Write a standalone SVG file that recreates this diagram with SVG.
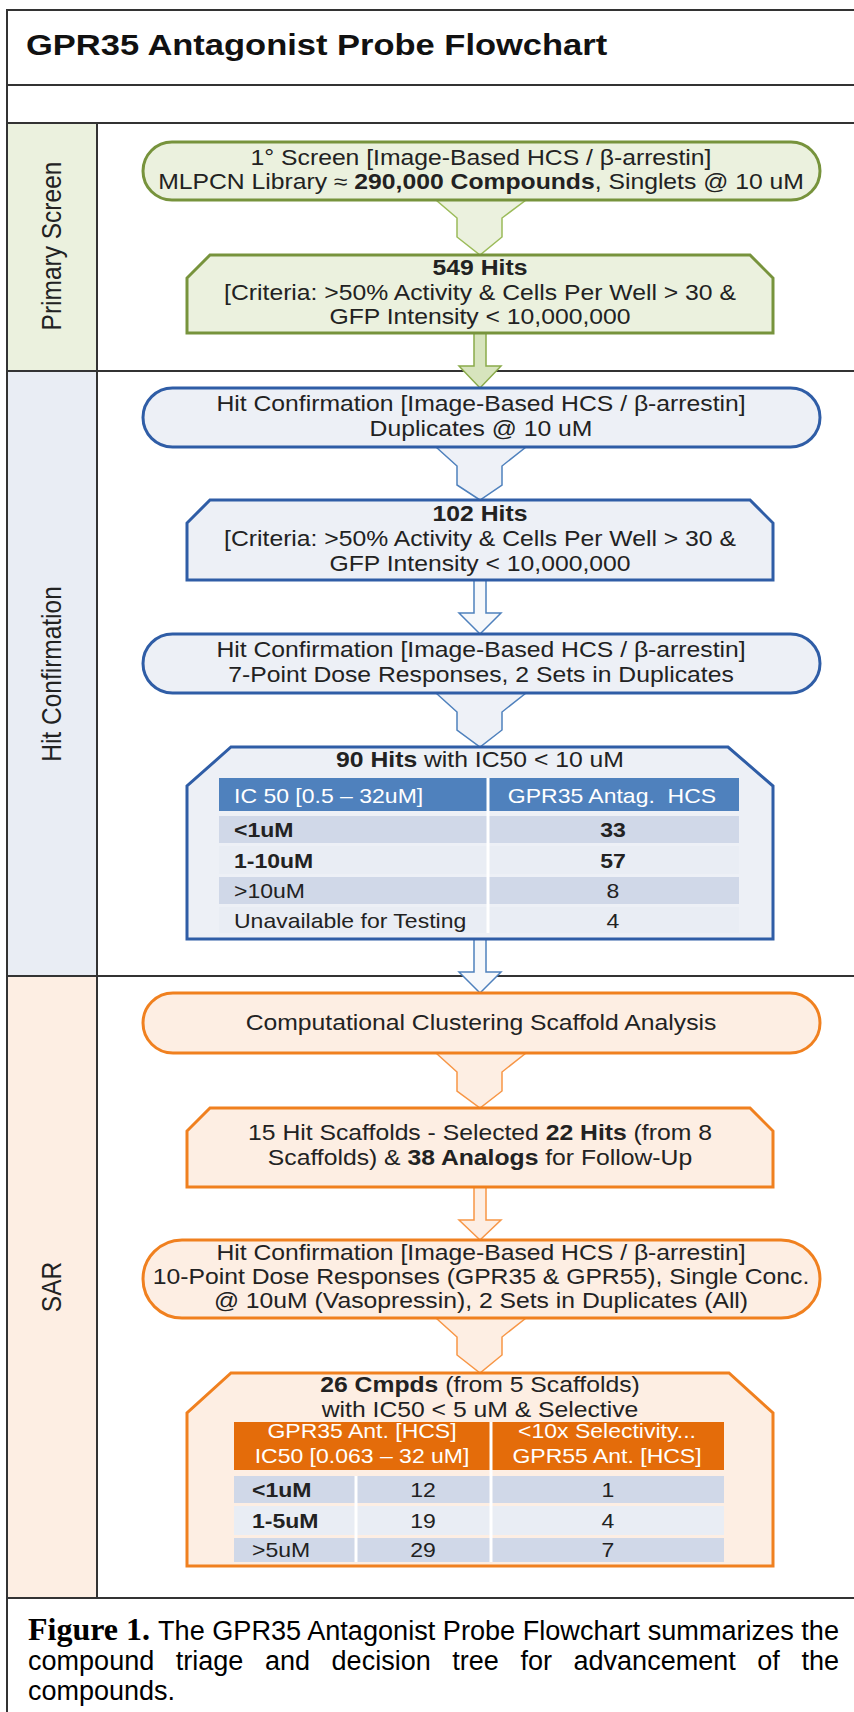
<svg xmlns="http://www.w3.org/2000/svg" width="854" height="1712" viewBox="0 0 854 1712">
<style>
.bg{fill:#ffffff}
.frame{stroke:#333333;stroke-width:2;fill:none}
.t{font-family:"Liberation Sans",Arial,sans-serif;font-size:21.5px;fill:#222222;text-anchor:middle}
.b{font-weight:bold}
.title{font-family:"Liberation Sans",Arial,sans-serif;font-size:30px;font-weight:bold;fill:#111111}
.lane{font-family:"Liberation Sans",Arial,sans-serif;font-size:24.5px;fill:#222222;text-anchor:middle}
.tb{font-family:"Liberation Sans",Arial,sans-serif;font-size:20px;fill:#222222}
.tc{text-anchor:middle}
.wh{fill:#ffffff}
.ng{fill:#ebf1de;stroke:#77933c;stroke-width:3}
.nb{fill:#edf0f6;stroke:#2f5da6;stroke-width:3}
.no{fill:#fdeee3;stroke:#f0801f;stroke-width:3}
.cg{fill:#ebf1de;stroke:#9bbb59;stroke-width:1.5}
.cga{fill:#d7e4bd;stroke:#8aab4a;stroke-width:1.5}
.cb{fill:#eef1f7;stroke:#4f81bd;stroke-width:1.5}
.cba{fill:#f6f8fb;stroke:#4f81bd;stroke-width:1.5}
.co{fill:#fdeee3;stroke:#f79646;stroke-width:1.5}
.hb{fill:#4f81bd}
.ho{fill:#e46c0a}
.r1{fill:#d0d8e8}
.r2{fill:#e9edf4}
.sep{stroke:#ffffff;stroke-width:3}
.cap{font-family:"Liberation Sans",Arial,sans-serif;font-size:27px;fill:#000000}
.capf{font-family:"Liberation Serif","Times New Roman",serif;font-size:32px;font-weight:bold;fill:#000000}
</style>
<rect class="bg" x="0" y="0" width="854" height="1712"/>

<g id="lanes">
<rect x="8" y="124" width="89" height="247" fill="#ebf1de"/>
<rect x="8" y="372" width="89" height="604" fill="#e9edf4"/>
<rect x="8" y="977" width="89" height="620" fill="#fdeee3"/>
<line class="frame" x1="7" y1="10" x2="854" y2="10"/>
<line class="frame" x1="7" y1="85" x2="854" y2="85"/>
<line class="frame" x1="7" y1="123" x2="854" y2="123"/>
<line class="frame" x1="7" y1="371" x2="854" y2="371"/>
<line class="frame" x1="7" y1="976" x2="854" y2="976"/>
<line class="frame" x1="7" y1="1598" x2="854" y2="1598" stroke-width="2.5"/>
<line class="frame" x1="7" y1="9" x2="7" y2="1712"/>
<line class="frame" x1="97" y1="123" x2="97" y2="1598"/>
<text class="title" transform="translate(26,55) scale(1.15,1)">GPR35 Antagonist Probe Flowchart</text>
<text class="lane" transform="translate(61,246) rotate(-90) scale(1,1.1)">Primary Screen</text>
<text class="lane" transform="translate(61,674) rotate(-90) scale(1,1.1)">Hit Confirmation</text>
<text class="lane" transform="translate(61,1287) rotate(-90) scale(1,1.1)">SAR</text>
</g>

<g id="connectors">
<polygon class="cg" points="436,200 526,200 502,218 502,237 480,255 457,237 457,218"/>
<polygon class="cga" points="474,333 486,333 486,366 501,366 480,388 459,366 474,366"/>
<polygon class="cb" points="436,447 526,447 502,466 502,485 480,500 457,485 457,466"/>
<polygon class="cba" points="474,580 486,580 486,613 501,613 480,634 459,613 474,613"/>
<polygon class="cb" points="436,693 526,693 502,712 502,730 480,747 457,730 457,712"/>
<polygon class="cba" points="474,939 486,939 486,972 501,972 480,993 459,972 474,972"/>
<polygon class="co" points="436,1053 526,1053 502,1072 502,1091 480,1108 457,1091 457,1072"/>
<polygon class="co" points="474,1187 486,1187 486,1220 501,1220 480,1240 459,1220 474,1220"/>
<polygon class="co" points="436,1318 526,1318 502,1337 502,1355 480,1373 457,1355 457,1337"/>
</g>

<g id="n1">
<rect class="ng" x="143" y="142" width="677" height="58" rx="29" ry="29"/>
<text class="t" transform="translate(481,165) scale(1.15,1)">1° Screen [Image-Based HCS / β-arrestin]</text>
<text class="t" transform="translate(481,189) scale(1.15,1)">MLPCN Library ≈ <tspan class="b">290,000 Compounds</tspan>, Singlets @ 10 uM</text>
</g>

<g id="n2">
<path class="ng" d="M210,255 H750 L773,278 V333 H187 V278 Z"/>
<text class="t b" transform="translate(480,275) scale(1.15,1)">549 Hits</text>
<text class="t" transform="translate(480,300) scale(1.15,1)">[Criteria: &gt;50% Activity &amp; Cells Per Well &gt; 30 &amp;</text>
<text class="t" transform="translate(480,324) scale(1.15,1)">GFP Intensity &lt; 10,000,000</text>
</g>

<g id="n3">
<rect class="nb" x="143" y="388" width="677" height="59" rx="29.5" ry="29.5"/>
<text class="t" transform="translate(481,411) scale(1.15,1)">Hit Confirmation [Image-Based HCS / β-arrestin]</text>
<text class="t" transform="translate(481,436) scale(1.15,1)">Duplicates @ 10 uM</text>
</g>

<g id="n4">
<path class="nb" d="M210,500 H750 L773,523 V580 H187 V523 Z"/>
<text class="t b" transform="translate(480,521) scale(1.15,1)">102 Hits</text>
<text class="t" transform="translate(480,546) scale(1.15,1)">[Criteria: &gt;50% Activity &amp; Cells Per Well &gt; 30 &amp;</text>
<text class="t" transform="translate(480,571) scale(1.15,1)">GFP Intensity &lt; 10,000,000</text>
</g>

<g id="n5">
<rect class="nb" x="143" y="634" width="677" height="59" rx="29.5" ry="29.5"/>
<text class="t" transform="translate(481,657) scale(1.15,1)">Hit Confirmation [Image-Based HCS / β-arrestin]</text>
<text class="t" transform="translate(481,682) scale(1.15,1)">7-Point Dose Responses, 2 Sets in Duplicates</text>
</g>

<g id="n6">
<path class="nb" d="M231,747 H728 L773,786 V939 H187 V786 Z"/>
<text class="t" transform="translate(480,767) scale(1.15,1)"><tspan class="b">90 Hits</tspan> with IC50 &lt; 10 uM</text>
<rect class="hb" x="219" y="778" width="520" height="33"/>
<rect class="r1" x="219" y="816" width="520" height="27"/>
<rect class="r2" x="219" y="846" width="520" height="28"/>
<rect class="r1" x="219" y="877" width="520" height="27"/>
<rect class="r2" x="219" y="907" width="520" height="26"/>
<line class="sep" x1="488" y1="778" x2="488" y2="933"/>
<text class="tb wh" transform="translate(234,803) scale(1.15,1)">IC 50 [0.5 – 32uM]</text>
<text class="tb wh tc" transform="translate(612,803) scale(1.15,1)">GPR35 Antag. &#160;HCS</text>
<text class="tb b" transform="translate(234,837) scale(1.15,1)">&lt;1uM</text>
<text class="tb b tc" transform="translate(613,837) scale(1.15,1)">33</text>
<text class="tb b" transform="translate(234,868) scale(1.15,1)">1-10uM</text>
<text class="tb b tc" transform="translate(613,868) scale(1.15,1)">57</text>
<text class="tb" transform="translate(234,898) scale(1.15,1)">&gt;10uM</text>
<text class="tb tc" transform="translate(613,898) scale(1.15,1)">8</text>
<text class="tb" transform="translate(234,928) scale(1.15,1)">Unavailable for Testing</text>
<text class="tb tc" transform="translate(613,928) scale(1.15,1)">4</text>
</g>

<g id="n7">
<rect class="no" x="143" y="993" width="677" height="60" rx="30" ry="30"/>
<text class="t" transform="translate(481,1030) scale(1.15,1)">Computational Clustering Scaffold Analysis</text>
</g>

<g id="n8">
<path class="no" d="M210,1108 H750 L773,1131 V1187 H187 V1131 Z"/>
<text class="t" transform="translate(480,1140) scale(1.15,1)">15 Hit Scaffolds - Selected <tspan class="b">22 Hits</tspan> (from 8</text>
<text class="t" transform="translate(480,1165) scale(1.15,1)">Scaffolds) &amp; <tspan class="b">38 Analogs</tspan> for Follow-Up</text>
</g>

<g id="n9">
<rect class="no" x="143" y="1240" width="677" height="78" rx="39" ry="39"/>
<text class="t" transform="translate(481,1260) scale(1.15,1)">Hit Confirmation [Image-Based HCS / β-arrestin]</text>
<text class="t" transform="translate(481,1284) scale(1.15,1)">10-Point Dose Responses (GPR35 &amp; GPR55), Single Conc.</text>
<text class="t" transform="translate(481,1308) scale(1.15,1)">@ 10uM (Vasopressin), 2 Sets in Duplicates (All)</text>
</g>

<g id="n10">
<path class="no" d="M231,1373 H729 L773,1413 V1566 H187 V1413 Z"/>
<text class="t" transform="translate(480,1392) scale(1.15,1)"><tspan class="b">26 Cmpds</tspan> (from 5 Scaffolds)</text>
<text class="t" transform="translate(480,1417) scale(1.15,1)">with IC50 &lt; 5 uM &amp; Selective</text>
<rect class="ho" x="234" y="1422" width="490" height="48"/>
<rect class="r1" x="234" y="1476" width="490" height="27"/>
<rect class="r2" x="234" y="1506" width="490" height="29"/>
<rect class="r1" x="234" y="1538" width="490" height="24"/>
<line class="sep" x1="491" y1="1422" x2="491" y2="1562"/>
<line class="sep" x1="356" y1="1476" x2="356" y2="1562"/>
<text class="tb wh tc" transform="translate(362,1438) scale(1.15,1)">GPR35 Ant. [HCS]</text>
<text class="tb wh tc" transform="translate(362,1463) scale(1.15,1)">IC50 [0.063 – 32 uM]</text>
<text class="tb wh tc" transform="translate(607,1438) scale(1.15,1)">&lt;10x Selectivity...</text>
<text class="tb wh tc" transform="translate(607,1463) scale(1.15,1)">GPR55 Ant. [HCS]</text>
<text class="tb b" transform="translate(252,1497) scale(1.15,1)">&lt;1uM</text>
<text class="tb tc" transform="translate(423,1497) scale(1.15,1)">12</text>
<text class="tb tc" transform="translate(608,1497) scale(1.15,1)">1</text>
<text class="tb b" transform="translate(252,1528) scale(1.15,1)">1-5uM</text>
<text class="tb tc" transform="translate(423,1528) scale(1.15,1)">19</text>
<text class="tb tc" transform="translate(608,1528) scale(1.15,1)">4</text>
<text class="tb" transform="translate(252,1557) scale(1.15,1)">&gt;5uM</text>
<text class="tb tc" transform="translate(423,1557) scale(1.15,1)">29</text>
<text class="tb tc" transform="translate(608,1557) scale(1.15,1)">7</text>
</g>

<g id="caption">
<text class="capf" x="28" y="1640">Figure 1.</text>
<text class="cap" x="158" y="1640" textLength="681" lengthAdjust="spacingAndGlyphs">The GPR35 Antagonist Probe Flowchart summarizes the</text>
<text class="cap" x="28" y="1670" word-spacing="14" textLength="811" lengthAdjust="spacingAndGlyphs">compound triage and decision tree for advancement of the</text>
<text class="cap" x="28" y="1700">compounds.</text>
</g>
</svg>
